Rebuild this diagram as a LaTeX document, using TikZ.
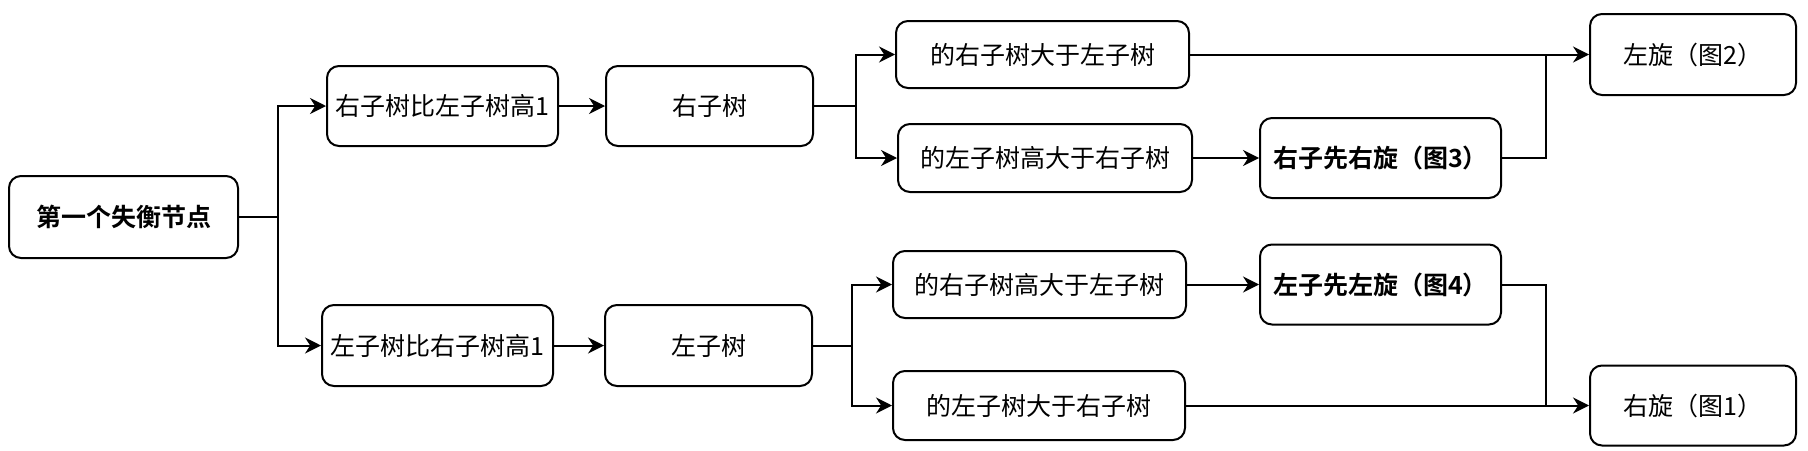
\documentclass[tikz,border=0pt]{standalone}
\usepackage{fontspec}
\setmainfont{Noto Sans CJK SC}[BoldFont={Noto Sans CJK SC Bold}]
\usetikzlibrary{arrows.meta}
\begin{document}
\begin{tikzpicture}[x=0.5pt,y=-0.5pt,
  box/.style={draw, line width=1pt, rounded corners=6pt, inner sep=0pt, align=center,
    font=\fontsize{12.5pt}{15pt}\selectfont},
  conn/.style={line width=1pt},
  arr/.style={conn, -{Stealth[length=8pt,width=8pt,inset=2.6pt]}}]
\useasboundingbox (0,0) rectangle (1808,450);
\node[box, font=\fontsize{12.5pt}{15pt}\selectfont\bfseries, minimum width=114.5pt, minimum height=41pt] (A) at (123.5,217) {第一个失衡节点};
\node[box, minimum width=115.5pt, minimum height=40pt] (B) at (442.5,106) {右子树比左子树高1};
\node[box, minimum width=115.5pt, minimum height=40.5pt] (C) at (437.5,345.5) {左子树比右子树高1};
\node[box, minimum width=103.5pt, minimum height=40pt] (D) at (709.5,106) {右子树};
\node[box, minimum width=103.5pt, minimum height=40.5pt] (E) at (708.5,345.5) {左子树};
\node[box, minimum width=146.5pt, minimum height=33.5pt] (F) at (1042.5,54.5) {的右子树大于左子树};
\node[box, minimum width=147pt, minimum height=34pt] (G) at (1045,158) {的左子树高大于右子树};
\node[box, minimum width=146.5pt, minimum height=33.5pt] (H) at (1039.5,284.5) {的右子树高大于左子树};
\node[box, minimum width=146pt, minimum height=34.5pt] (I) at (1039,405.5) {的左子树大于右子树};
\node[box, font=\fontsize{12.5pt}{15pt}\selectfont\bfseries, minimum width=120.5pt, minimum height=40pt] (J) at (1380.5,158) {右子先右旋（图3）};
\node[box, font=\fontsize{12.5pt}{15pt}\selectfont\bfseries, minimum width=120.5pt, minimum height=40pt] (K) at (1380.5,284.5) {左子先左旋（图4）};
\node[box, minimum width=103pt, minimum height=40.5pt] (L) at (1693,54.5) {左旋（图2）};
\node[box, minimum width=103pt, minimum height=40pt] (M) at (1693,405.5) {右旋（图1）};
\coordinate (jA) at (278,217);
\coordinate (jD) at (856,106);
\coordinate (jE) at (852,345.5);
\coordinate (jL) at (1546,54.5);
\coordinate (jM) at (1546,405.5);
\draw[conn] (A.east) -- (jA);
\draw[arr] (jA) |- (B.west);
\draw[arr] (jA) |- (C.west);
\draw[arr] (B.east) -- (D.west);
\draw[arr] (C.east) -- (E.west);
\draw[conn] (D.east) -- (jD);
\draw[arr] (jD) |- (F.west);
\draw[arr] (jD) |- (G.west);
\draw[conn] (E.east) -- (jE);
\draw[arr] (jE) |- (H.west);
\draw[arr] (jE) |- (I.west);
\draw[arr] (F.east) -- (L.west);
\draw[arr] (G.east) -- (J.west);
\draw[arr] (H.east) -- (K.west);
\draw[arr] (I.east) -- (M.west);
\draw[conn] (J.east) -| (jL);
\draw[conn] (K.east) -| (jM);
\end{tikzpicture}
\end{document}
